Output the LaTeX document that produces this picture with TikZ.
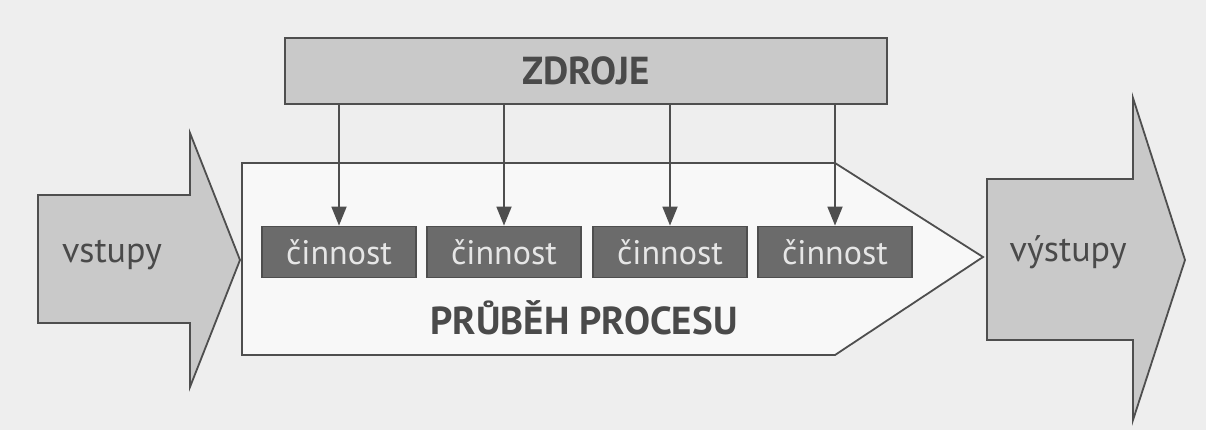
\documentclass[tikz,border=0pt]{standalone}
\usepackage{fontspec}
\setmainfont{PT Sans}
\usetikzlibrary{arrows.meta}
\definecolor{bg}{HTML}{EEEEEE}
\definecolor{lightfill}{HTML}{C9C9C9}
\definecolor{darkfill}{HTML}{6B6B6B}
\definecolor{linec}{HTML}{4E4E4E}
\definecolor{txtdark}{HTML}{4A4A4A}
\definecolor{txtlight}{HTML}{E6E6E6}
\tikzset{
  outline/.style={draw=linec, line width=1.8pt, line join=miter},
  actbox/.style={outline, fill=darkfill, minimum width=154pt, minimum height=51pt, inner sep=0pt,
    text=txtlight, font=\fontsize{34}{40}\selectfont},
  feed/.style={draw=linec, line width=1.8pt, -{Triangle[length=19pt,width=15pt]}},
  bigtext/.style={text=txtdark, font=\fontsize{36}{42}\selectfont},
  boldtext/.style={text=txtdark, font=\bfseries\fontsize{39}{46}\selectfont},
}
\begin{document}
\begin{tikzpicture}[x=1pt,y=-1pt]
\path[use as bounding box, fill=bg] (0,0) rectangle (1206,430);
% input arrow
\path[outline, fill=lightfill] (38,195) -- (190,195) -- (190,133) -- (240,260) -- (190,387) -- (190,323) -- (38,323) -- cycle;
\node[bigtext] (in) at (112,255) {vstupy};
% process pentagon
\path[outline, fill=white!60!bg] (242,163) -- (835,163) -- (983,257) -- (835,355) -- (242,355) -- cycle;
\node[boldtext] (proc) at (584,318) {PRŮBĚH PROCESU};
% output arrow
\path[outline, fill=lightfill] (987,179) -- (1133,179) -- (1133,98) -- (1185,260) -- (1133,420) -- (1133,340) -- (987,340) -- cycle;
\node[bigtext] (out) at (1068,252) {výstupy};
% resources
\node[outline, fill=lightfill, minimum width=602pt, minimum height=66pt, inner sep=0pt, boldtext] (z) at (586,71) {ZDROJE};
% activities
\node[actbox] (c1) at (339,252) {činnost};
\node[actbox] (c2) at (504,252) {činnost};
\node[actbox] (c3) at (670,252) {činnost};
\node[actbox] (c4) at (835,252) {činnost};
\foreach \c in {c1,c2,c3,c4}{
  \draw[feed] (z.south -| \c.north) -- (\c.north);
}
\end{tikzpicture}
\end{document}
